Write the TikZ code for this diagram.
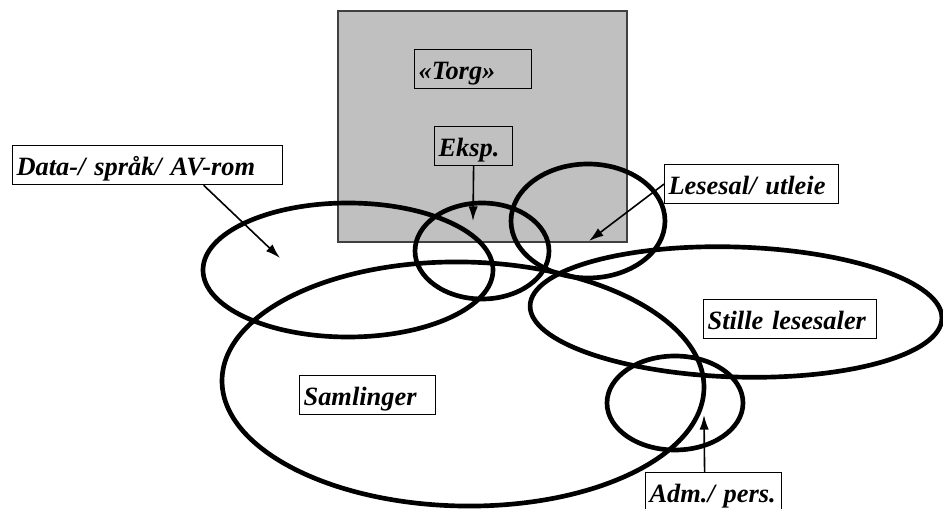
\documentclass[tikz,border=0pt]{standalone}
\usepackage{fontspec}
\setmainfont{Liberation Serif}
\usepackage{tikz}
\usetikzlibrary{arrows.meta}

\definecolor{torggray}{HTML}{C0C0C0}

\tikzset{
  ring/.style={line width=3.5pt},
  roomtag/.style={draw, line width=0.9pt, anchor=north west, inner sep=3pt,
    text width=#1, text height=19.5pt, text depth=3.75pt, align=left,
    font=\fontsize{19.8}{22}\selectfont\bfseries\itshape},
  pointer/.style={-{Latex[length=11pt,width=7pt]}, line width=1.2pt}
}

\begin{document}
\begin{tikzpicture}[x=0.75pt, y=-0.75pt]

\useasboundingbox (0,0) rectangle (943,509);

% torg area
\draw[fill=torggray, draw=black!75, line width=0.9pt] (338,11) rectangle (627,242);

% rooms
\foreach \cx/\cy/\rx/\ry/\a in {348/270/145/67/0, 482/251/67/48/0, 588/221/77/57/0,
                                 463/384/241/122/-1, 736/312/206/65/-1.8, 675/403/68/47/0}
    \draw[ring, rotate around={\a:(\cx,\cy)}] (\cx,\cy) ellipse [x radius=\rx, y radius=\ry];

% labels
\node[roomtag=81.75pt] (torg) at (414,49) {«Torg»};
\node[roomtag=52.5pt] (eksp) at (434,126) {Eksp.};
\node[roomtag=196.5pt] (data) at (12,145) {Data-/ språk/ AV-rom};
\node[roomtag=124.5pt] (lesesal) at (664,164) {Lesesal/ utleie};
\node[roomtag=123.75pt] (stille) at (703,299) {Stille lesesaler};
\node[roomtag=96pt] (samling) at (299,375) {Samlinger};
\node[roomtag=96pt] (adm) at (645,472) {Adm./ pers.};

\coordinate (data tip) at (280,258);
\coordinate (eksp tip) at (473,221);
\coordinate (lesesal tip) at (589,241);
\coordinate (adm tip) at (704,415);

\draw[pointer] ([xshift=42pt]data.south) -- (data tip);
\draw[pointer] (eksp.south) -- (eksp tip);
\draw[pointer] (lesesal.west) -- (lesesal tip);
\draw[pointer] ([xshift=-6.75pt]adm.north) -- (adm tip);

\end{tikzpicture}
\end{document}
